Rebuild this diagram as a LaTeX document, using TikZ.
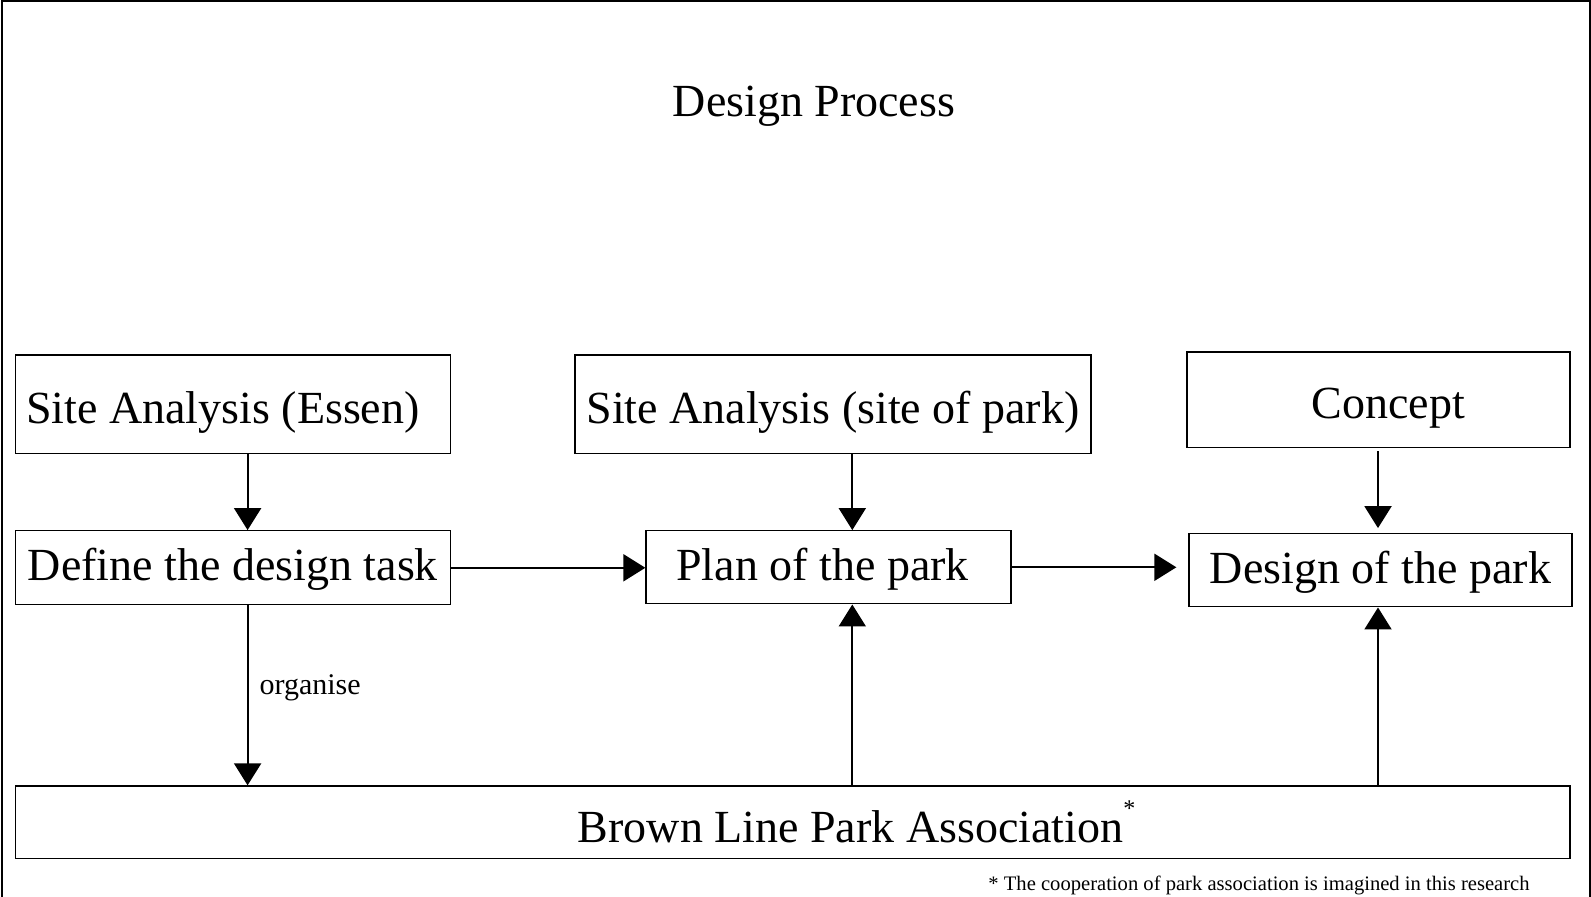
\documentclass[tikz,border=0pt]{standalone}
\usepackage{fontspec}
\setmainfont{Liberation Serif}
\usetikzlibrary{arrows.meta}

\tikzset{
	box/.style={draw, line width=0.65pt, inner sep=0pt, font=\fontsize{23}{27}\selectfont},
	toprow/.style={box, text height=24pt, text depth=5pt},
	midrow/.style={box, text height=20pt, text depth=7pt},
	arr/.style={line width=1pt, -{Triangle[width=13.5pt,length=11pt]}},
	frame/.style={line width=0.75pt}
}

\begin{document}
\begin{tikzpicture}[x=0.5pt, y=-0.5pt]
			%%%%% START %%%%%
			\useasboundingbox (0,0) rectangle (1591,897);
			\draw[frame] (2,897) -- (2,1) -- (1590,1) -- (1590,897);
			
			\node[font=\fontsize{23}{27}\selectfont] (title) at (814,106) {Design Process};
			
			% top row
			\node[toprow, minimum width=217.6pt, minimum height=49.3pt] (saE) at (232.9,404.3) {Site Analysis (Essen)\hspace*{10pt}};
			\node[toprow, minimum width=258pt, minimum height=49.3pt] (saS) at (833,404.3) {Site Analysis (site of park)};
			\node[toprow, minimum width=191.5pt, minimum height=47.75pt] (con) at (1378.5,399.8) {\hspace*{10pt}Concept};
			
			% middle row
			\node[midrow, minimum width=217.6pt, minimum height=37.05pt] (def) at (232.9,567.8) {Define the design task};
			\node[midrow, minimum width=182.5pt, minimum height=36.55pt] (plan) at (828.5,567.3) {Plan of the park\hspace*{6pt}};
			\node[midrow, minimum width=191.5pt, minimum height=36.55pt] (des) at (1380.5,570.3) {Design of the park};
			
			% bottom
			\node[box, minimum width=777.4pt, minimum height=36.2pt] (bro) at (792.6,822.2)
				{\hspace*{64pt}Brown Line Park Association\raisebox{13pt}{\fontsize{12}{12}\selectfont *}};
			\node[font=\fontsize{10.3}{12}\selectfont] (note) at (1259,885)
				{* The cooperation of park association is imagined in this research};
			
			\coordinate (colA) at (247.6,0);
			\coordinate (colB) at (852.3,0);
			\coordinate (colC) at (1378,0);
			
			\draw[arr] (saE.south -| colA) -- (def.north -| colA);
			\draw[arr] (def.south -| colA) -- node[right, font=\fontsize{15}{18}\selectfont, inner xsep=5.5pt, yshift=4pt] {organise} (bro.north -| colA);
			\draw[arr] (def.east) -- (plan.west |- def.east);
			\draw[arr, shorten >=6pt] (plan.east) -- (des.west |- plan.east);
			\draw[arr] (saS.south -| colB) -- (plan.north -| colB);
			\draw[arr] (bro.north -| colB) -- (plan.south -| colB);
			\draw[arr, shorten <=1.5pt, shorten >=2.5pt] (con.south -| colC) -- (des.north -| colC);
			\draw[arr] (bro.north -| colC) -- (des.south -| colC);
			%%%%% END %%%%%
\end{tikzpicture}
\end{document}
